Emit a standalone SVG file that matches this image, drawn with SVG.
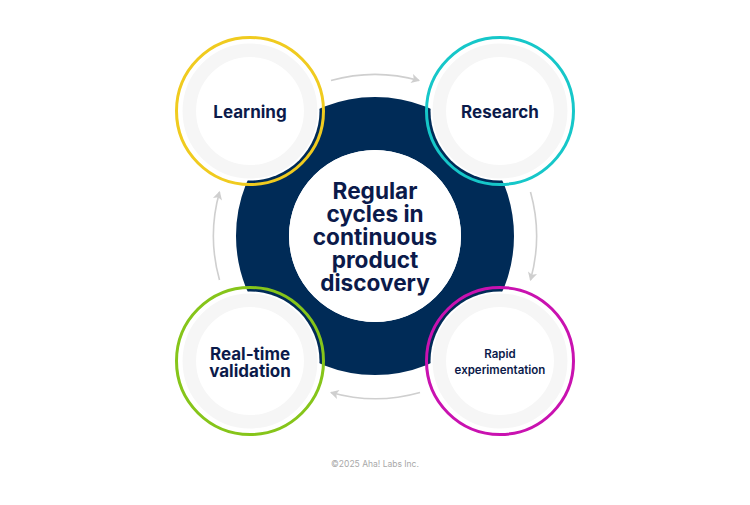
<svg xmlns="http://www.w3.org/2000/svg" width="750" height="505" viewBox="0 0 750 505">
<defs>
<marker id="a" markerUnits="userSpaceOnUse" markerWidth="11" markerHeight="11" refX="8" refY="5.500" orient="auto"><path d="M0.500 0.800L9 5.500L0.500 10.200L2.500 5.500Z" fill="#cfcfcf"/></marker>
</defs>
<style>
.halo{fill:#fff}
.band{fill:none;stroke:#f6f6f6;stroke-width:13.5}
.rim{fill:none;stroke-width:3}
.flow{fill:none;stroke:#cfcfcf;stroke-width:1.6;marker-end:url(#a)}
text{font-family:"Inter","Liberation Sans",sans-serif;font-weight:700;fill:#0b1a4a;text-anchor:middle}
.n{font-size:17px}
.c{font-size:22.600px}
.s{font-size:11.500px;font-weight:600}
</style>
<rect width="750" height="505" fill="#fff"/>
<g id="hub">
<circle cx="375" cy="236" r="112.500" fill="none" stroke="#002b57" stroke-width="53"/>
<circle cx="375" cy="236" r="86" fill="#fff"/>
<text class="c" x="375" y="199"><tspan x="375">Regular</tspan><tspan x="375" dy="23">cycles in</tspan><tspan x="375" dy="23">continuous</tspan><tspan x="375" dy="23">product</tspan><tspan x="375" dy="23">discovery</tspan></text>
</g>
<g id="connectors">
<path class="flow" d="M331 80.500A163 163 0 0 1 419 80.500"/>
<path class="flow" d="M530.500 192A163 163 0 0 1 530.500 280"/>
<path class="flow" d="M420 392.500A163 163 0 0 1 331 392.500"/>
<path class="flow" d="M219.500 280A163 163 0 0 1 219.500 192"/>
</g>
<g id="learning">
<circle class="halo" cx="250" cy="111" r="69.500"/><circle class="band" cx="250" cy="111" r="60.700"/><circle class="rim" cx="250" cy="111" r="73.500" stroke="#f0cb1f"/>
<text class="n" x="250" y="118">Learning</text>
</g>
<g id="research">
<circle class="halo" cx="500" cy="111" r="69.500"/><circle class="band" cx="500" cy="111" r="60.700"/><circle class="rim" cx="500" cy="111" r="73.500" stroke="#16c7c9"/>
<text class="n" x="500" y="118">Research</text>
</g>
<g id="validation">
<circle class="halo" cx="250" cy="361" r="69.500"/><circle class="band" cx="250" cy="361" r="60.700"/><circle class="rim" cx="250" cy="361" r="73.500" stroke="#86c51a"/>
<text class="n" x="250" y="360">Real-time</text>
<text class="n" x="250" y="377">validation</text>
</g>
<g id="experimentation">
<circle class="halo" cx="500" cy="361" r="69.500"/><circle class="band" cx="500" cy="361" r="60.700"/><circle class="rim" cx="500" cy="361" r="73.500" stroke="#c912b0"/>
<text class="s" x="500" y="358">Rapid</text>
<text class="s" x="500" y="374">experimentation</text>
</g>
<text x="375" y="467" style="font-size:8.500px;font-weight:400;fill:#a8a8a8">©2025 Aha! Labs Inc.</text>
</svg>
